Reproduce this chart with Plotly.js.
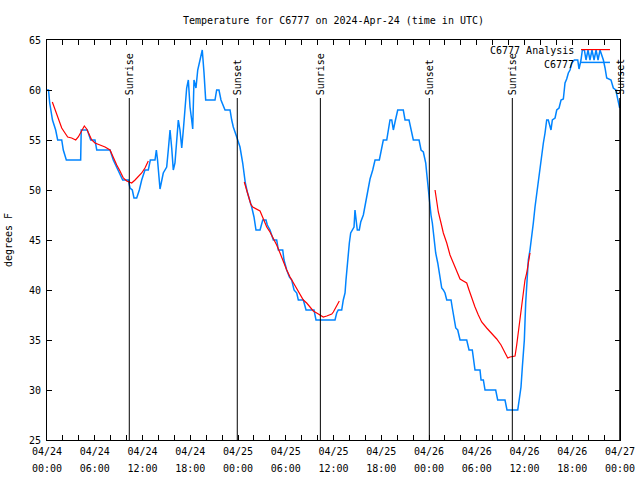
<!DOCTYPE html>
<html><head><meta charset="utf-8">
<script src="https://cdn.plot.ly/plotly-3.0.1.min.js"></script>
<style>html,body{margin:0;padding:0;background:#fff}#chart{width:640px;height:480px}</style>
</head><body><div id="chart"></div>
<script>
// hours since 2024-04-24 00:00 UTC
const obsHours = [0.00,0.19,0.34,0.59,0.69,1.09,1.34,1.85,2.05,2.43,4.23,4.30,5.06,5.49,6.03,6.25,7.92,8.33,8.76,9.17,9.51,10.22,10.43,10.72,10.93,11.27,11.60,11.90,12.31,12.73,12.98,13.57,13.74,13.89,14.20,14.61,15.04,15.24,15.46,15.67,15.87,16.08,16.30,16.50,16.71,16.93,17.13,17.34,17.55,17.76,17.97,18.18,18.31,18.47,18.72,18.94,19.23,19.51,19.73,19.94,21.11,21.32,21.61,21.86,22.37,23.00,23.21,23.41,23.84,24.25,24.59,24.75,24.92,25.17,25.42,25.72,26.01,26.26,26.77,27.11,27.52,27.68,28.02,28.24,28.44,28.86,29.07,29.62,29.78,30.12,30.45,30.75,31.04,31.38,31.58,32.21,32.55,33.55,33.80,36.19,36.40,36.60,37.03,37.23,37.45,37.57,37.74,37.86,37.99,38.16,38.41,38.58,38.70,38.83,38.99,39.24,39.42,39.75,39.96,40.17,40.37,40.59,40.93,41.22,41.76,41.97,42.26,42.69,42.89,43.10,43.32,43.52,43.73,44.07,44.77,44.99,45.49,45.74,46.03,46.75,47.00,47.29,47.59,47.71,47.84,47.91,48.04,48.25,48.42,48.54,48.67,48.84,49.10,49.26,49.38,49.60,49.80,50.01,50.23,50.77,50.93,51.18,51.36,51.61,51.90,52.74,53.03,53.44,53.57,53.78,54.41,54.54,54.83,55.04,56.38,56.63,57.55,57.80,59.15,59.31,59.50,59.56,59.73,59.85,59.98,60.15,60.28,60.48,60.69,60.91,61.11,61.32,61.53,61.74,61.95,62.16,62.37,62.58,62.79,62.99,63.21,63.33,63.50,63.84,64.05,64.34,64.59,64.88,65.09,65.30,65.51,65.72,65.93,66.26,66.69,66.85,67.10,67.27,67.52,67.73,67.98,68.23,68.48,68.74,68.99,69.24,69.49,69.91,70.12,70.33,70.87,71.16,71.47,71.71,71.96];
const obsTemps = [60,60,58.7,57.2,57,56,55,55,54,53,53,56,56,55,55,54,54,53,52.3,51.7,51,51,50.2,50,49.2,49.2,50,51,52,52,53,53,54,53,50.1,51.7,52.3,54,56,54.2,52,52.7,55,57,56,54.2,56,58,60.2,61,58.3,57,56.1,61,60.2,62,63,64,61.7,59,59,60,60,59,58,58,57,56.3,55.3,54.3,52.7,51.7,50.7,49.8,49.2,48.3,47.3,46,46,47,47,46.5,46,45.5,45,45,44,44,43,42,41.3,41,40,39.7,39,39,38,38,37,37,37.7,38,38,39,39.7,41,42.7,43.7,44.7,45.7,46.1,46.3,48,46.7,46,46,46.8,47.5,48.5,49.2,50.5,51.1,52,53,53,54,55,55,56,57,57,56,56.8,58,58,57,57,56,55,55,54,53.8,52.7,51.7,50.7,49.7,48.7,47.5,46.7,45.7,44.7,43.7,42.7,41.8,41,40.2,40,39.7,39,39,38.2,37.2,36.2,36,35,35,34,34,33,32,32,31,31,30,30,29,29,28,28,29,29.6,30.3,32.3,33.3,35,38.7,41,43,44,45.3,46.7,48.3,49.7,51,52,53.3,54.7,55.7,57,57,56.3,56,57,57.2,58,58.2,59,59.1,60.7,61.1,61.7,62,62.7,63,63,62.1,63,64,64,63,64,63,64,63,64,63,64,63,62.2,61.2,61,60.2,60,59.2,58.2];
const anaHours = [0.67,1.01,1.42,1.85,2.26,2.60,3.10,3.61,3.93,4.27,4.69,4.99,5.19,5.62,6.03,6.66,7.29,7.92,8.33,8.76,9.17,9.59,10.02,10.64,11.06,11.47,11.90,12.31,12.73,null,
 24.79,25.09,25.30,25.60,25.85,26.35,26.77,26.98,27.18,27.61,28.02,28.44,28.86,29.28,29.69,30.12,30.54,30.95,31.38,31.79,32.21,32.63,33.05,33.46,33.89,34.31,34.72,35.15,35.78,35.98,36.32,36.73,null,
 48.76,48.97,49.17,49.51,49.80,50.23,50.64,51.06,51.48,51.90,52.31,52.74,53.03,53.37,53.78,54.20,54.62,55.25,55.88,56.51,57.05,57.46,57.89,58.18,58.81,59.02,59.22,59.44,59.65,59.85,60.06,60.28,60.48,60.69];
const anaTemps = [58.8,58,57,56.2,55.7,55.3,55.2,55,55.3,55.8,56.4,56.1,55.7,55,54.7,54.5,54.3,54,53.2,52.5,51.9,51.2,50.9,50.7,51,51.3,51.7,52.2,52.9,null,
 50.8,50,49.2,48.6,48.3,48.1,47.9,47.5,47.1,46.3,45.8,45.2,44.5,43.7,42.8,42,41.3,40.7,40.1,39.5,39,38.7,38.3,37.9,37.7,37.5,37.3,37.4,37.6,37.8,38.3,38.9,null,
 50,49,47.8,46.7,45.7,44.7,43.5,42.7,41.8,41.1,40.9,40.7,40,39.2,38.3,37.5,36.8,36.2,35.7,35.1,34.5,33.8,33.2,33.3,33.4,34.5,35.7,37.3,38.7,39.7,41,41.7,42.7,43.7];
const sunHours = [10.34,23.91,34.35,48.04,58.47,71.97];
const sunLabels = ['Sunrise','Sunset','Sunrise','Sunset','Sunrise','Sunset'];
const legendNames = ['C6777 Analysis','C6777'];
const titleText = 'Temperature for C6777 on 2024-Apr-24 (time in UTC)';

const START = Date.UTC(2024,3,24);
function toDate(h){ if(h===null) return null; return new Date(START + h*3600000).toISOString().slice(0,19).replace('T',' '); }

const FONT = {family:'DejaVu Sans Mono, monospace', size:10, color:'#000'};
const BLUE = 'rgb(0,132,255)', RED = 'rgb(255,0,0)';
const XRANGE = [toDate(0), toDate(72)];

const traces = [
  {x: obsHours.map(toDate), y: obsTemps, type:'scatter', mode:'lines', line:{color:BLUE, width:1.5}, name:legendNames[1], showlegend:false, hoverinfo:'skip'},
  {x: anaHours.map(toDate), y: anaTemps, type:'scatter', mode:'lines', line:{color:RED, width:1.2}, name:legendNames[0], connectgaps:false, showlegend:false, hoverinfo:'skip'},
  {x: [toDate(0)], y: [null], xaxis:'x2', type:'scatter', mode:'lines', showlegend:false, hoverinfo:'skip'}
];

const shapes = sunHours.map(h => ({type:'line', xref:'x', yref:'paper', x0:toDate(h), x1:toDate(h), y0:0, y1:0.855, line:{color:'#000', width:1}}));
shapes.push({type:'line', xref:'paper', yref:'paper', x0:0.932, x1:0.9825, y0:0.976, y1:0.976, line:{color:RED, width:1.2}});
shapes.push({type:'line', xref:'paper', yref:'paper', x0:0.932, x1:0.9825, y0:0.944, y1:0.944, line:{color:BLUE, width:1.5}});

const annotations = sunHours.map((h,i) => ({x:toDate(h), xref:'x', y:0.86, yref:'paper', text:sunLabels[i], textangle:-90, showarrow:false, xanchor:'center', yanchor:'bottom', font:FONT, borderpad:0}));
annotations.push({x:0.9215, xref:'paper', y:0.9725, yref:'paper', text:legendNames[0], showarrow:false, xanchor:'right', yanchor:'middle', font:FONT, borderpad:0});
annotations.push({x:0.9215, xref:'paper', y:0.94, yref:'paper', text:legendNames[1], showarrow:false, xanchor:'right', yanchor:'middle', font:FONT, borderpad:0});

const layout = {
  width:640, height:480,
  margin:{l:47, r:20, t:40, b:40},
  paper_bgcolor:'#fff', plot_bgcolor:'#fff',
  font:FONT,
  showlegend:false,
  title:{text:titleText, font:FONT, x:0.5, xref:'paper', xanchor:'center', y:1-20/480, yref:'container', yanchor:'middle'},
  xaxis:{type:'date', range:XRANGE, dtick:6*3600000, tick0:toDate(0), tickformat:'%m/%d',
    ticks:'inside', ticklen:5, tickcolor:'#000', showline:true, linecolor:'#000', linewidth:1, mirror:'ticks',
    showgrid:false, zeroline:false, tickfont:FONT, ticklabelstandoff:2,
    minor:{dtick:2*3600000, ticks:'inside', ticklen:5, tickcolor:'#000', showgrid:false}},
  xaxis2:{type:'date', range:XRANGE, dtick:6*3600000, tick0:toDate(0), tickformat:'%H:%M', overlaying:'x', anchor:'y', side:'bottom',
    ticks:'', showline:false, showgrid:false, zeroline:false, tickfont:FONT, ticklabelstandoff:21},
  yaxis:{range:[25,65], dtick:5, ticks:'inside', ticklen:5, tickcolor:'#000', showline:true, linecolor:'#000', linewidth:1, mirror:'ticks',
    showgrid:false, zeroline:false, tickfont:FONT, ticklabelstandoff:3, title:{text:'degrees F', font:FONT, standoff:14}},
  shapes:shapes,
  annotations:annotations
};
Plotly.newPlot('chart', traces, layout, {staticPlot:true, displayModeBar:false});
</script></body></html>
